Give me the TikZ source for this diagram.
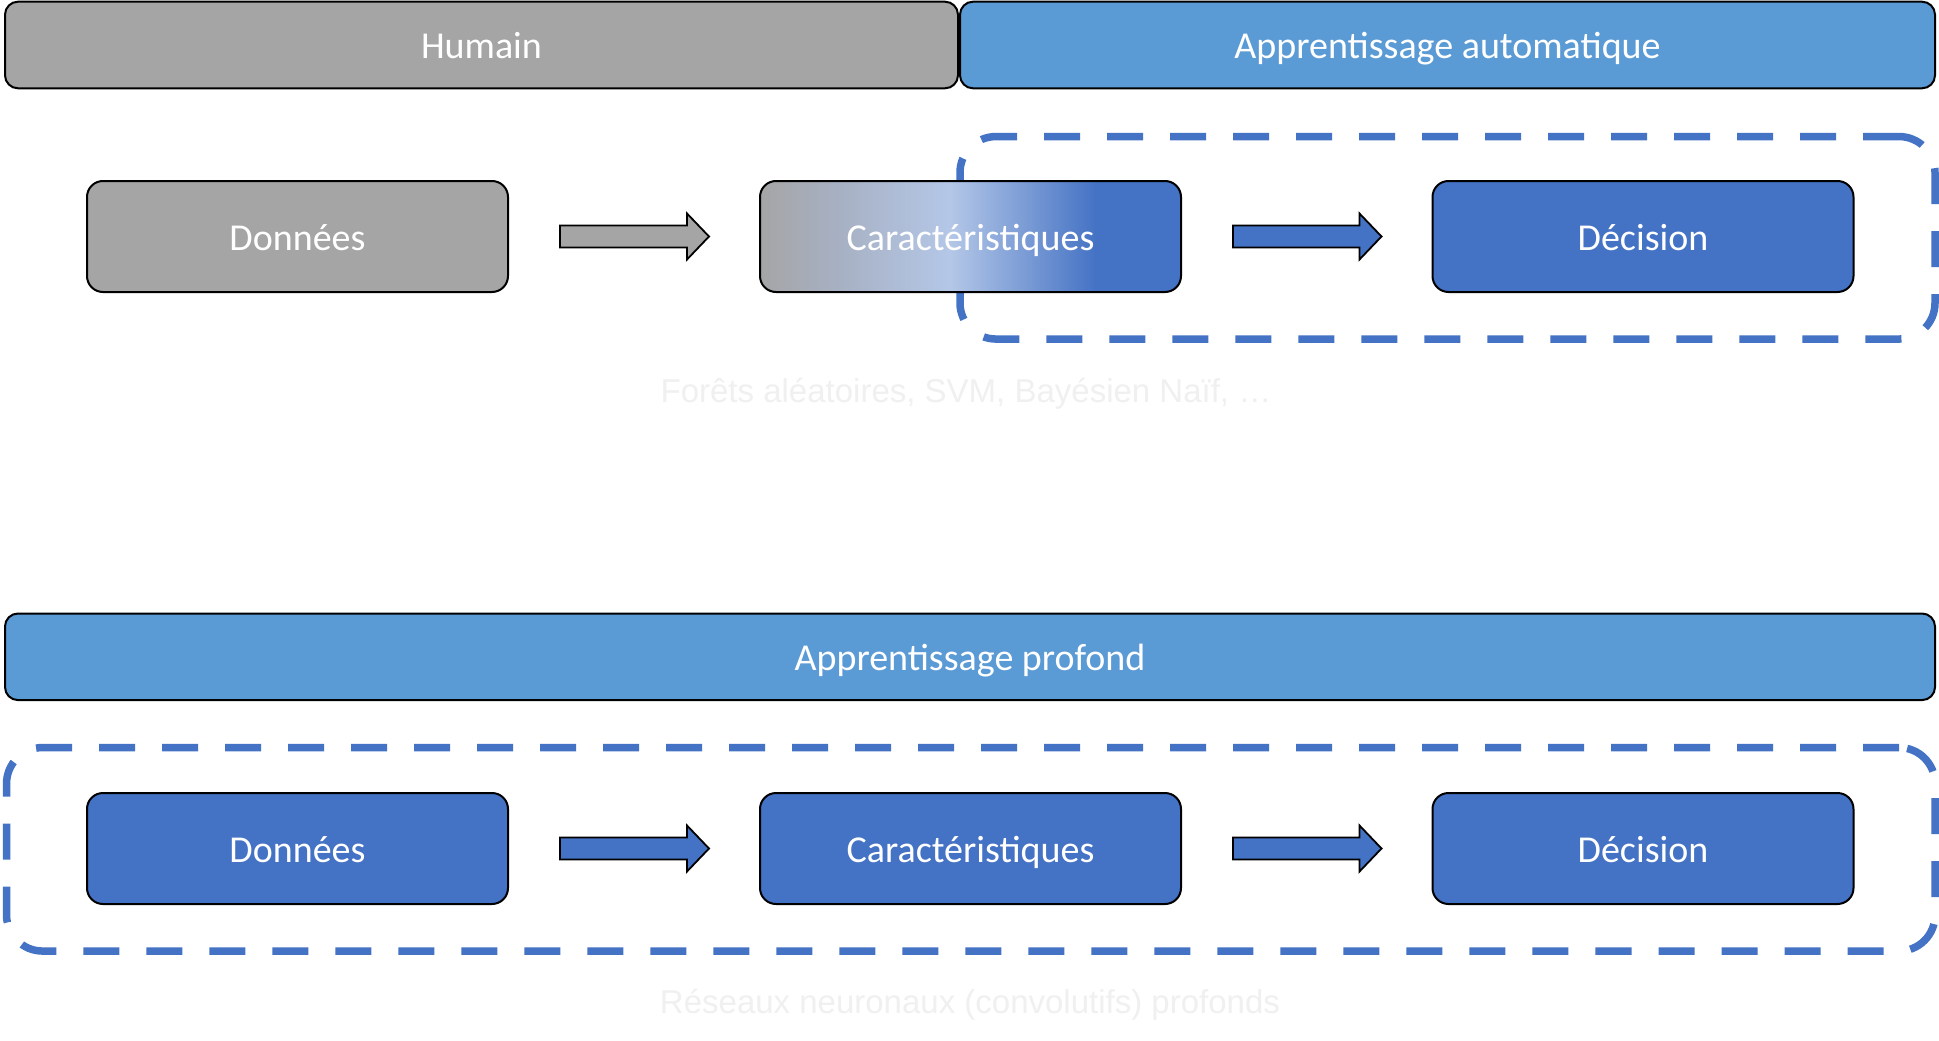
\documentclass[tikz,border=0pt]{standalone}
\usepackage{fontspec}
\usetikzlibrary{calc}
\newfontfamily\boxfont{Carlito}
\newfontfamily\faintfont{Liberation Sans}
\definecolor{cgray}{HTML}{A5A5A5}
\definecolor{cbox}{HTML}{4472C4}
\definecolor{chead}{HTML}{5B9BD5}
\definecolor{cfaint}{HTML}{F0F0F0}
\definecolor{cmid}{HTML}{A7B0C2}
\definecolor{clight}{HTML}{B4C7E7}
\pgfdeclarehorizontalshading{caracshade}{100bp}{color(0bp)=(cgray); color(25bp)=(cgray); color(34bp)=(cmid); color(47.5bp)=(clight); color(65bp)=(cbox); color(100bp)=(cbox)}
\newcommand{\drawblockarrow}[3]{%
  \draw[blockarrow, fill=#3]
    ($(#1.east)+(52,-11)$) -- ($(#2.west)+(-73,-11)$) -- ($(#2.west)+(-73,-23)$)
    -- ($(#2.west)+(-51,0)$) -- ($(#2.west)+(-73,23)$) -- ($(#2.west)+(-73,11)$)
    -- ($(#1.east)+(52,11)$) -- cycle;}
\begin{document}
\begin{tikzpicture}[x=1pt,y=-1pt,
  boxtext/.style={text=white, font=\boxfont\fontsize{38}{46}\selectfont, text height=27pt, text depth=0pt},
  bar/.style={boxtext, text height=28pt, draw=black, line width=2pt, rounded corners=13pt, minimum height=86.6pt, inner sep=0pt, outer sep=0pt},
  stepbox/.style={boxtext, draw=black, line width=2pt, rounded corners=16pt, minimum width=421pt, minimum height=111pt, inner sep=0pt, outer sep=0pt},
  dashframe/.style={draw=cbox, line width=7.5pt, dash pattern=on 36pt off 27pt, rounded corners=36pt, inner sep=0pt, outer sep=0pt},
  blockarrow/.style={draw=black, line width=1.8pt, line join=miter},
  faint/.style={text=cfaint, font=\faintfont\fontsize{33}{40}\selectfont, anchor=base, inner sep=0pt}]
\fill[white] (0,0) rectangle (1939,1041);
\useasboundingbox (0,0) rectangle (1939,1041);

% header bars
\node[bar, fill=cgray, minimum width=953pt] (humain) at (481.5,45) {Humain};
\node[bar, fill=chead, minimum width=975pt] (auto) at (1447.5,45) {Apprentissage automatique};
\node[bar, fill=chead, minimum width=1930pt] (profond) at (970,656.8) {Apprentissage profond};

% dashed frames
\node[dashframe, minimum width=975pt, minimum height=202.5pt] (frame1) at (1447.5,237.8) {};
\node[dashframe, minimum width=1928.5pt, minimum height=203.5pt] (frame2) at (970.8,849.3) {};

% top row
\node[stepbox, fill=cgray] (d1) at (297.5,236.5) {Données};
\node[stepbox, shade, shading=caracshade] (c1) at (970.5,236.5) {Caractéristiques};
\node[stepbox, fill=cbox] (e1) at (1643,236.5) {Décision};
\drawblockarrow{d1}{c1}{cgray}
\drawblockarrow{c1}{e1}{cbox}

% bottom row
\node[stepbox, fill=cbox] (d2) at (297.5,848.5) {Données};
\node[stepbox, fill=cbox] (c2) at (970.5,848.5) {Caractéristiques};
\node[stepbox, fill=cbox] (e2) at (1643,848.5) {Décision};
\drawblockarrow{d2}{c2}{cbox}
\drawblockarrow{c2}{e2}{cbox}

% faint captions
\node[faint] (cap1) at (966,402) {Forêts aléatoires, SVM, Bayésien Naïf, …};
\node[faint] (cap2) at (970,1013) {Réseaux neuronaux (convolutifs) profonds};
\end{tikzpicture}
\end{document}
